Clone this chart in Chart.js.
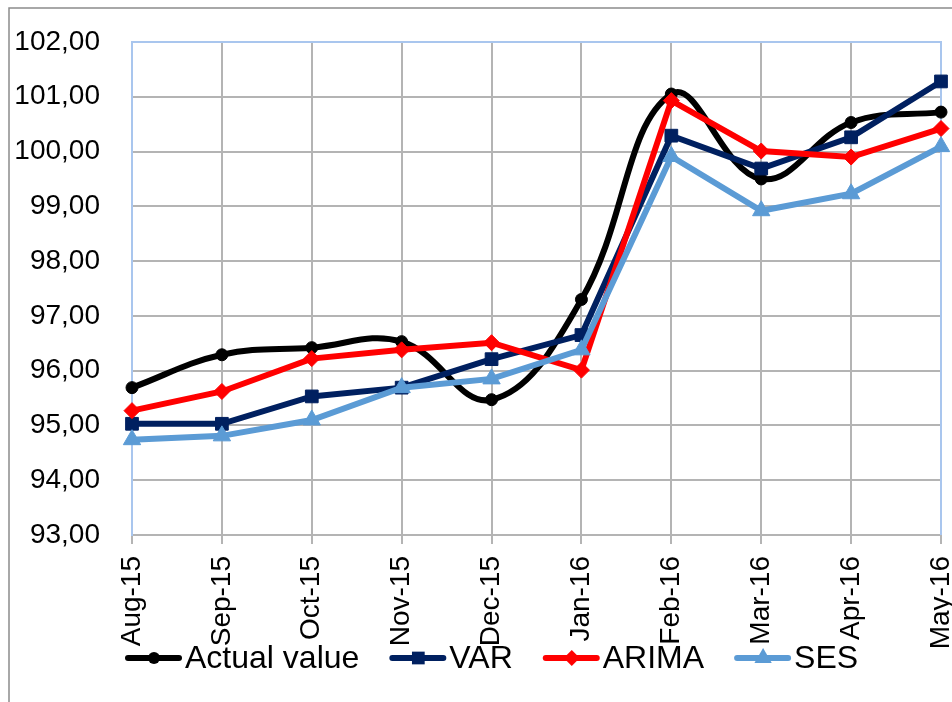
<!DOCTYPE html>
<html lang="en">

<head>
    <meta charset="UTF-8">
    <title>Forecast comparison</title>
    <script src="https://cdn.jsdelivr.net/npm/chart.js"></script>
    <style>
        html, body { margin: 0; padding: 0; background: #ffffff; }
        #box { width: 952px; height: 702px; position: relative; }
    </style>
</head>

<body>
    <div id="box">
        <canvas id="graficoLinhas"></canvas>
    </div>

<script>
var meses = ['Aug-15', 'Sep-15', 'Oct-15', 'Nov-15', 'Dec-15', 'Jan-16', 'Feb-16', 'Mar-16', 'Apr-16', 'May-16']
var valorReal = [95.69, 96.29, 96.42, 96.53, 95.47, 97.30, 101.05, 99.50, 100.53, 100.72]
var valorVAR = [95.03, 95.03, 95.53, 95.69, 96.21, 96.65, 100.29, 99.69, 100.26, 101.28]
var valorARIMA = [95.27, 95.62, 96.22, 96.38, 96.51, 96.01, 100.93, 100.01, 99.90, 100.42]
var valorSES = [94.74, 94.81, 95.10, 95.69, 95.85, 96.38, 99.91, 98.92, 99.23, 100.09]
var eixoMin = 93
var eixoMax = 102

var nomes = ['Actual value', 'VAR', 'ARIMA', 'SES']
var cores = ['#000000', '#002060', '#ff0000', '#5b9bd5']
var marcadores = ['circle', 'rect', 'rectRot', 'triangle']
var raios = [6, 9, 8, 10]

function desenharMarcador(ctx, tipo, x, y, r, cor) {
    ctx.save()
    ctx.fillStyle = cor
    ctx.beginPath()
    if (tipo == 'circle') {
        ctx.arc(x, y, r, 0, Math.PI * 2)
    } else if (tipo == 'rect') {
        var l = r * Math.SQRT2 / 2
        ctx.rect(x - l, y - l, l * 2, l * 2)
    } else if (tipo == 'rectRot') {
        ctx.moveTo(x, y - r)
        ctx.lineTo(x + r, y)
        ctx.lineTo(x, y + r)
        ctx.lineTo(x - r, y)
    } else {
        ctx.moveTo(x, y - r)
        ctx.lineTo(x + r * 0.866, y + r / 2)
        ctx.lineTo(x - r * 0.866, y + r / 2)
    }
    ctx.closePath()
    ctx.fill()
    ctx.restore()
}

// moldura azul da area do grafico e borda cinza externa
var moldura = {
    id: 'moldura',
    beforeDatasetsDraw: function (chart) {
        var ctx = chart.ctx
        var a = chart.chartArea
        ctx.save()
        ctx.strokeStyle = '#8c8c8c'
        ctx.lineWidth = 1.5
        ctx.beginPath()
        ctx.moveTo(9, 702)
        ctx.lineTo(9, 8)
        ctx.lineTo(952, 8)
        ctx.stroke()

        ctx.strokeStyle = '#a9c6ee'
        ctx.lineWidth = 2
        ctx.beginPath()
        ctx.moveTo(a.left, a.bottom)
        ctx.lineTo(a.left, a.top)
        ctx.lineTo(a.right, a.top)
        ctx.lineTo(a.right, a.bottom)
        ctx.stroke()
        ctx.restore()
    }
}

// legenda desenhada por cima dos rotulos do eixo x
var legenda = {
    id: 'legenda',
    afterDraw: function (chart) {
        var ctx = chart.ctx
        var x = 125
        var y = 658
        ctx.save()
        ctx.font = '32px "Liberation Sans"'
        ctx.textBaseline = 'middle'
        for (var i = 0; i < nomes.length; i++) {
            ctx.strokeStyle = cores[i]
            ctx.lineWidth = 6
            ctx.lineCap = 'round'
            ctx.beginPath()
            ctx.moveTo(x + 3, y)
            ctx.lineTo(x + 54, y)
            ctx.stroke()
            desenharMarcador(ctx, marcadores[i], x + 29, y, raios[i], cores[i])
            ctx.fillStyle = '#000000'
            ctx.fillText(nomes[i], x + 60, y + 1)
            x = x + 60 + ctx.measureText(nomes[i]).width + 30
        }
        ctx.restore()
    }
}

var series = [valorReal, valorVAR, valorARIMA, valorSES]
var conjuntos = []
for (var i = 0; i < series.length; i++) {
    conjuntos.push({
        label: nomes[i],
        data: series[i],
        borderColor: cores[i],
        backgroundColor: cores[i],
        borderWidth: 6,
        pointStyle: marcadores[i],
        pointRadius: raios[i],
        pointBorderWidth: 1,
        pointBackgroundColor: cores[i],
        pointBorderColor: cores[i],
        tension: i == 0 ? 0.4 : 0,
        order: 4 - i
    })
}

new Chart(document.getElementById('graficoLinhas'), {
    type: 'line',
    data: {
        labels: meses,
        datasets: conjuntos
    },
    options: {
        responsive: true,
        maintainAspectRatio: false,
        animation: false,
        layout: {
            padding: { top: 42, right: 11, left: 0, bottom: 0 }
        },
        scales: {
            x: {
                offset: false,
                afterFit: function (escala) {
                    escala.height = 167
                    escala.paddingLeft = 0
                    escala.paddingRight = 0
                },
                grid: {
                    color: '#b4b4b4',
                    lineWidth: 2,
                    tickLength: 9
                },
                border: { color: '#b4b4b4', width: 2 },
                ticks: {
                    minRotation: 90,
                    maxRotation: 90,
                    autoSkip: false,
                    padding: 12,
                    color: '#000000',
                    font: { family: 'Liberation Sans', size: 28 }
                }
            },
            y: {
                min: eixoMin,
                max: eixoMax,
                afterFit: function (escala) {
                    escala.width = 132
                    escala.paddingTop = 0
                    escala.paddingBottom = 0
                },
                grid: {
                    color: '#b4b4b4',
                    lineWidth: 2,
                    drawTicks: false
                },
                border: { color: '#a9c6ee', width: 2 },
                ticks: {
                    stepSize: 1,
                    padding: 32,
                    color: '#000000',
                    font: { family: 'Liberation Sans', size: 28 },
                    callback: function (valor) {
                        return valor.toFixed(2).replace('.', ',')
                    }
                }
            }
        },
        plugins: {
            legend: { display: false },
            tooltip: { enabled: false }
        }
    },
    plugins: [moldura, legenda]
});
</script>
</body>
</html>
